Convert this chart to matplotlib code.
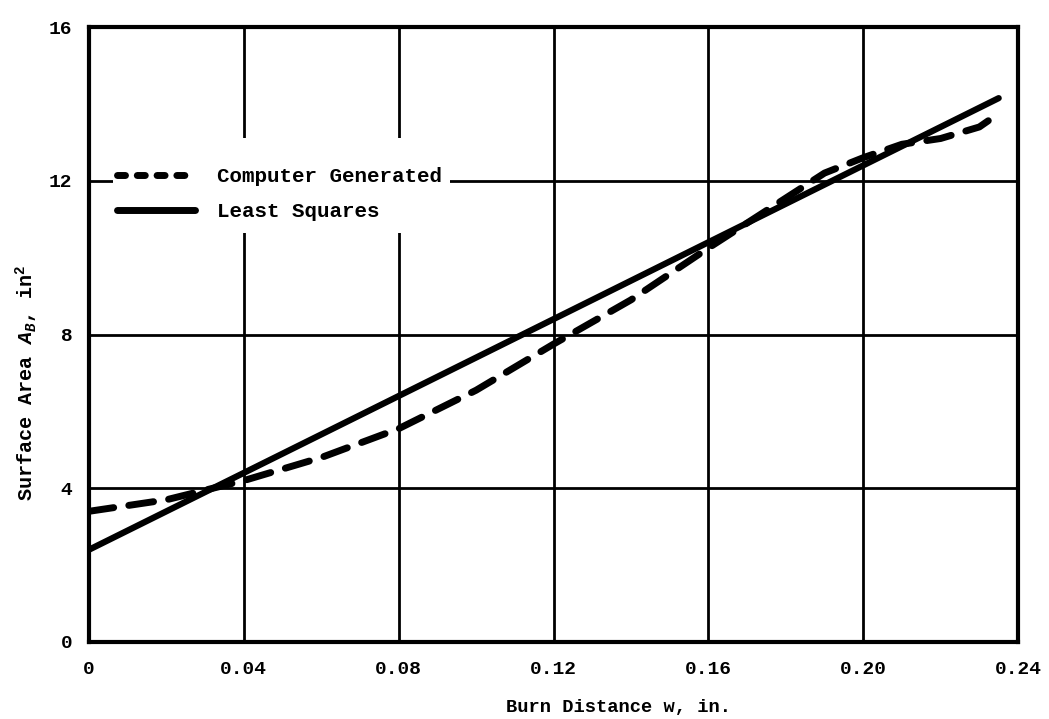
import matplotlib
matplotlib.use("Agg")
import matplotlib.pyplot as plt
from matplotlib.lines import Line2D
from matplotlib.patches import Rectangle

# valores
comp_w = [0, 0.01, 0.02, 0.03, 0.04, 0.06, 0.08, 0.10, 0.12, 0.14, 0.16,
          0.18, 0.19, 0.20, 0.21, 0.22, 0.23, 0.235]
comp_a = [3.40, 3.55, 3.70, 3.95, 4.20, 4.80, 5.55, 6.55, 7.75, 8.90, 10.25,
          11.55, 12.20, 12.60, 12.95, 13.10, 13.40, 13.75]

ls_w = [0, 0.235]
ls_a = [2.40, 14.15]

x_ticks = [0, 0.04, 0.08, 0.12, 0.16, 0.20, 0.24]
x_labels = ['0', '0.04', '0.08', '0.12', '0.16', '0.20', '0.24']
y_ticks = [0, 4, 8, 12, 16]
y_labels = ['0', '4', '8', '12', '16']

plt.rcParams['font.family'] = ['Liberation Mono', 'DejaVu Sans']
plt.rcParams['font.weight'] = 'bold'
plt.rcParams['axes.labelweight'] = 'bold'
plt.rcParams['mathtext.fontset'] = 'custom'
plt.rcParams['mathtext.rm'] = 'Liberation Mono:bold'
plt.rcParams['mathtext.it'] = 'Liberation Mono:italic:bold'
plt.rcParams['mathtext.bf'] = 'Liberation Mono:bold'

fig = plt.figure(figsize=(10.49, 7.19), dpi=100)
ax = fig.add_axes([0.0848, 0.1071, 0.8857, 0.8553])

ax.plot(comp_w, comp_a, color='black', lw=5, linestyle=(0, (3.6, 2.2)),
        dash_capstyle='round', solid_capstyle='round', zorder=3)
ax.plot(ls_w, ls_a, color='black', lw=4.5, solid_capstyle='round', zorder=3)

ax.set_xlim(0, 0.24)
ax.set_ylim(0, 16)
ax.set_xticks(x_ticks)
ax.set_xticklabels(x_labels)
ax.set_yticks(y_ticks)
ax.set_yticklabels(y_labels)
ax.tick_params(length=0, labelsize=14, pad=12)
ax.tick_params(axis='x', pad=14)

ax.grid(True, color='black', lw=2)
ax.set_axisbelow(True)
for s in ax.spines.values():
    s.set_linewidth(3)

ax.set_xlabel('Burn Distance w, in.', fontsize=13.5)
ax.xaxis.set_label_coords(0.449, -0.106)
ax.xaxis.label.set_horizontalalignment('left')
ax.xaxis.label.set_verticalalignment('center')
ax.set_ylabel(r'Surface Area $A_B$, in$^2$', fontsize=14.5)
ax.yaxis.set_label_coords(-0.053, 0.421)

# fondo blanco de la leyenda tapando la reticula
ax.add_patch(Rectangle((0.026, 0.665), 0.363, 0.155, transform=ax.transAxes,
                       facecolor='white', edgecolor='none', zorder=1))

# legend con guiones mas cortos que en la curva
h1 = Line2D([], [], color='black', lw=5, linestyle=(0, (1.15, 1.7)),
            dash_capstyle='round')
h2 = Line2D([], [], color='black', lw=5, solid_capstyle='round')
leg = ax.legend([h1, h2], ['Computer Generated', 'Least Squares'],
                loc='upper left', bbox_to_anchor=(0.030, 0.772),
                fontsize=15, frameon=False, handlelength=3.75,
                handletextpad=1.05, borderpad=0, borderaxespad=0,
                labelspacing=0.75)

fig.savefig('out.png', dpi=100)
